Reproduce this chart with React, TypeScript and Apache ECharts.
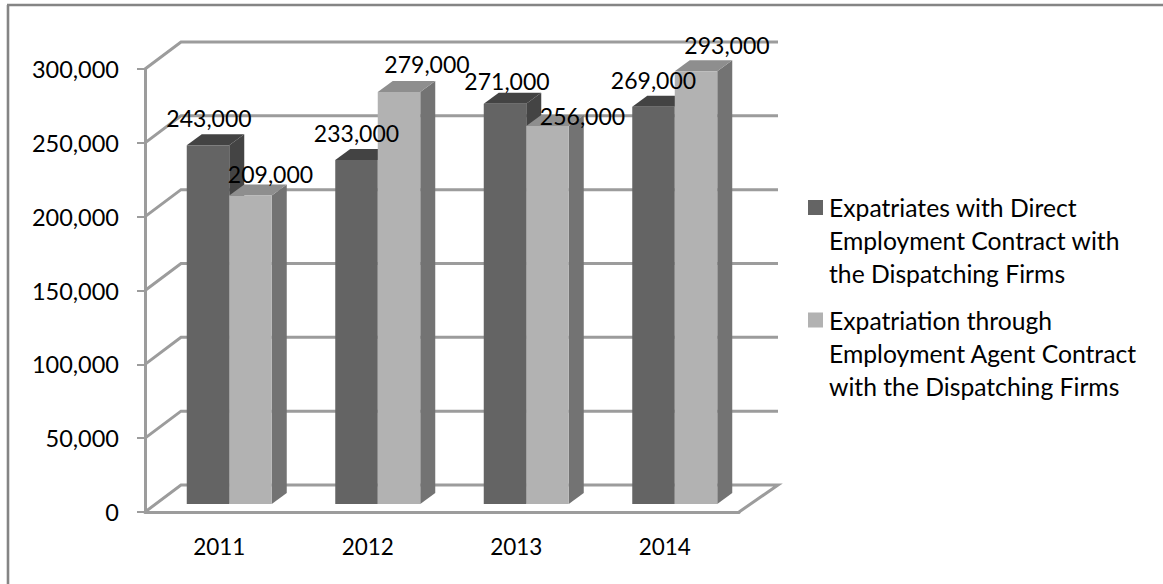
import React, { useEffect, useRef } from "react";
import * as echarts from "echarts";

const categories = ["2011", "2012", "2013", "2014"];
const directContract = [243000, 233000, 271000, 269000];
const agentContract = [209000, 279000, 256000, 293000];
const tickValues = [0, 50000, 100000, 150000, 200000, 250000, 300000];
const directName = "Expatriates with Direct\nEmployment Contract with\nthe Dispatching Firms";
const agentName = "Expatriation through\nEmployment Agent Contract\nwith the Dispatching Firms";

// Hand-placed data label nudges, relative to the top centre of each bar's front face.
const directNudges = [[1, -27], [0, -27], [2, -23], [0, -27]];
const agentNudges = [[20, -21], [28, -28], [35, -10], [31, -26]];

const FONT = "Lato, 'Open Sans', sans-serif";
const TICK_SIZE = 23.5;
const VALUE_SIZE = 23;
const GRID = { left: 145, top: 69, right: 424, bottom: 72 };
const WALL = { dx: 36, dy: -27 };
const BAR = { width: 42.5, depthX: 15, depthY: -11, insetX: 10, insetY: -8 };
const GRID_COLOR = "#9c9c9c";

const directStyle = { face: "#646464", top: "#434343", side: "#444444" };
const agentStyle = { face: "#b2b2b2", top: "#8e8e8e", side: "#737373" };

function barCorners(api: any, offset: number) {
  const base = api.coord([api.value(0), 0]);
  const head = api.coord([api.value(0), api.value(1)]);
  const x = base[0] + offset * BAR.width + BAR.insetX;
  return { x, yBase: base[1] + BAR.insetY, yTop: head[1] + BAR.insetY };
}

function barRenderer(offset: number, style: typeof directStyle) {
  return (_: any, api: any) => {
    const { x, yBase, yTop } = barCorners(api, offset);
    const right = x + BAR.width;
    const { depthX: dx, depthY: dy } = BAR;
    return {
      type: "group",
      children: [
        {
          type: "polygon",
          shape: { points: [[right, yBase], [right + dx, yBase + dy], [right + dx, yTop + dy], [right, yTop]] },
          style: { fill: style.side },
        },
        {
          type: "polygon",
          shape: { points: [[x, yTop], [x + dx, yTop + dy], [right + dx, yTop + dy], [right, yTop]] },
          style: { fill: style.top },
        },
        { type: "rect", shape: { x, y: yTop, width: BAR.width, height: yBase - yTop }, style: { fill: style.face } },
      ],
    };
  };
}

function labelRenderer(offset: number, nudges: number[][]) {
  return (params: any, api: any) => {
    const { x, yTop } = barCorners(api, offset);
    const [nx, ny] = nudges[params.dataIndex];
    return {
      type: "text",
      style: {
        text: api.value(1).toLocaleString("en-US"),
        x: x + BAR.width / 2 + nx,
        y: yTop + ny,
        align: "center",
        verticalAlign: "middle",
        fill: "#000",
        fontFamily: FONT,
        fontSize: VALUE_SIZE,
      },
    };
  };
}

// Horizontal wall lines running back from the value axis, plus the floor's right edge.
function wallRenderer(params: any, api: any) {
  const start = api.coord([0, api.value(0)]);
  const left = start[0] - api.size([1, 0])[0] / 2;
  const bandTotal = api.size([1, 0])[0] * categories.length;
  const points: number[][] = [
    [left, start[1]],
    [left + WALL.dx, start[1] + WALL.dy],
    [left + bandTotal + WALL.dx + 3, start[1] + WALL.dy],
  ];
  if (api.value(0) === 0) points.push([left + bandTotal, start[1]]);
  return {
    type: "polyline",
    shape: { points },
    style: { stroke: GRID_COLOR, lineWidth: 3, fill: "none" },
  };
}

const pairs = (values: number[]) => values.map((v, i) => [i, v]);

export default function App() {
  const ref = useRef<HTMLDivElement>(null);
  useEffect(() => {
    document.body.style.margin = "0";
    document.body.style.background = "#fff";
    const chart = echarts.init(ref.current!, null, { renderer: "svg" });
    chart.setOption({
      animation: false,
      backgroundColor: "#fff",
      textStyle: { fontFamily: FONT },
      grid: GRID,
      graphic: [
        { type: "line", shape: { x1: 8, y1: 5, x2: 8, y2: 584 }, style: { stroke: "#858585", lineWidth: 2.6 } },
        { type: "line", shape: { x1: 7, y1: 5, x2: 1163, y2: 5 }, style: { stroke: "#858585", lineWidth: 2.6 } },
      ],
      legend: {
        orient: "vertical",
        left: 808,
        top: 191,
        padding: 0,
        itemWidth: 16,
        itemHeight: 99,
        itemGap: 13.5,
        // Square sits beside the first text line; the zero-length moves keep the icon box three lines tall.
        icon: "path://M0,0H0 M0,9H15V24H0Z M16,99H16",
        selectedMode: false,
        data: [
          { name: directName, itemStyle: { color: directStyle.face } },
          { name: agentName, itemStyle: { color: agentStyle.face } },
        ],
        textStyle: { fontFamily: FONT, fontSize: 24.7, lineHeight: 33, color: "#000" },
      },
      xAxis: {
        type: "category",
        data: categories,
        axisLine: { lineStyle: { color: GRID_COLOR, width: 3 } },
        axisTick: { length: 8, lineStyle: { color: GRID_COLOR, width: 2 } },
        axisLabel: { color: "#000", fontFamily: FONT, fontSize: 22.5, margin: 23 },
      },
      yAxis: {
        type: "value",
        min: 0,
        max: 300000,
        interval: 50000,
        axisLine: { show: true, lineStyle: { color: GRID_COLOR, width: 3 } },
        axisTick: { show: true, length: 8, lineStyle: { color: GRID_COLOR, width: 2 } },
        splitLine: { show: false },
        axisLabel: {
          color: "#000",
          fontFamily: FONT,
          fontSize: TICK_SIZE,
          margin: 26,
          formatter: (v: number) => v.toLocaleString("en-US"),
        },
      },
      series: [
        {
          type: "custom",
          name: "wall",
          z: 1,
          silent: true,
          data: tickValues.map((v) => [v]),
          encode: { y: 0 },
          renderItem: wallRenderer,
        },
        {
          type: "custom",
          name: directName,
          z: 2,
          itemStyle: { color: directStyle.face },
          data: pairs(directContract),
          encode: { x: 0, y: 1 },
          renderItem: barRenderer(-1, directStyle),
        },
        {
          type: "custom",
          name: agentName,
          z: 3,
          itemStyle: { color: agentStyle.face },
          data: pairs(agentContract),
          encode: { x: 0, y: 1 },
          renderItem: barRenderer(0, agentStyle),
        },
        {
          type: "custom",
          name: "direct values",
          z: 4,
          data: pairs(directContract),
          encode: { x: 0, y: 1 },
          renderItem: labelRenderer(-1, directNudges),
        },
        {
          type: "custom",
          name: "agent values",
          z: 4,
          data: pairs(agentContract),
          encode: { x: 0, y: 1 },
          renderItem: labelRenderer(0, agentNudges),
        },
      ],
    });
    return () => chart.dispose();
  }, []);
  return <div ref={ref} style={{ width: 1163, height: 584 }} />;
}
